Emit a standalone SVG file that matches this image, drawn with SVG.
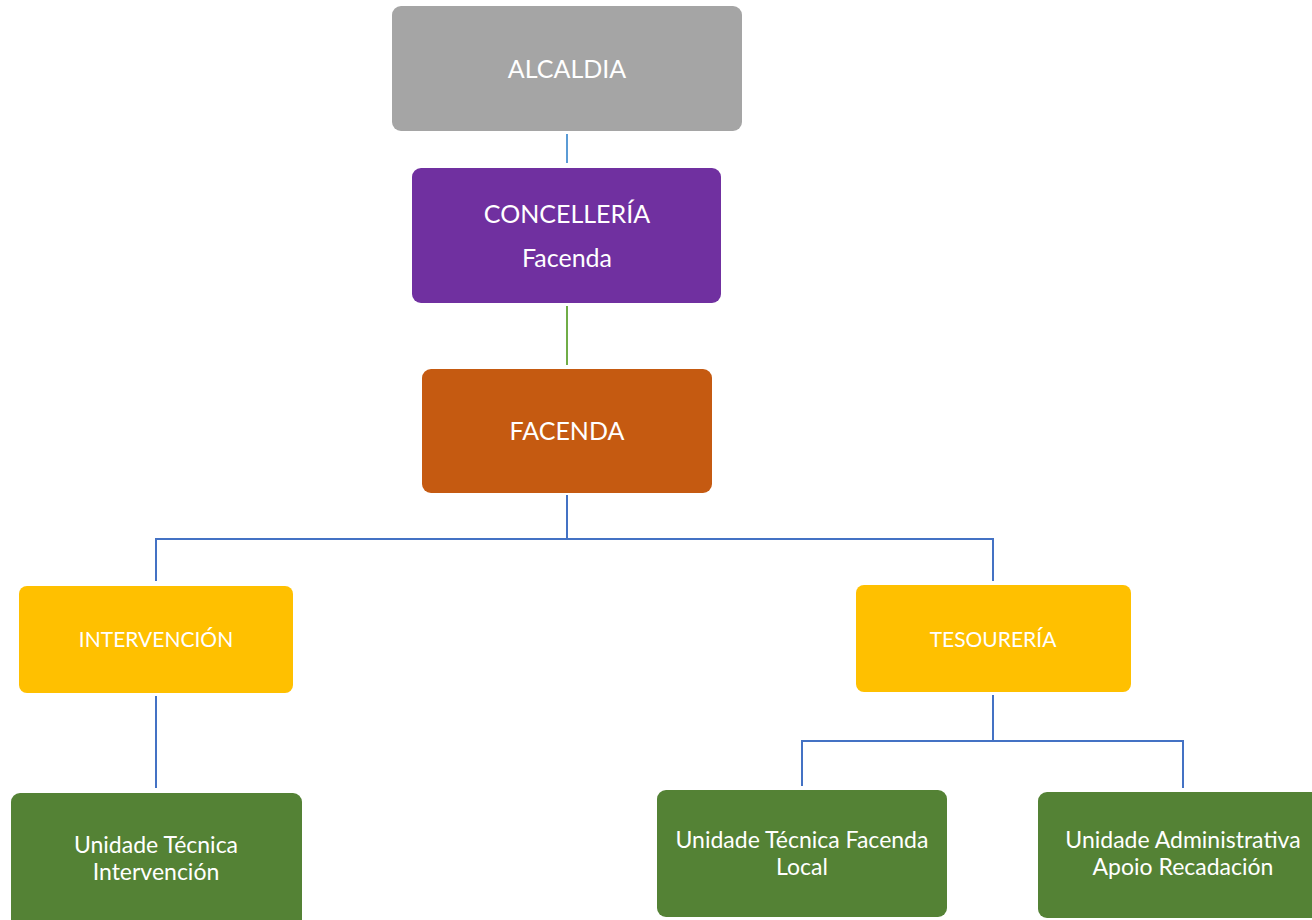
<svg xmlns="http://www.w3.org/2000/svg" width="1312" height="920" viewBox="0 0 1312 920">
<style>
.t{font-family:Lato,"Open Sans","Liberation Sans",sans-serif;fill:#fff;text-anchor:middle;dominant-baseline:central}
.big{font-size:25px}
.mid{font-size:21px}
.sm{font-size:23px}
.c{fill:none;stroke-width:2}
</style>
<rect width="1312" height="920" fill="#fff"/>
<g id="connectors">
<line class="c" x1="567" y1="134" x2="567" y2="163" stroke="#5B9BD5"/>
<line class="c" x1="567" y1="306" x2="567" y2="365" stroke="#70AD47"/>
<path class="c" d="M567 495 V539 M156 581 V539 H993 V581" stroke="#4472C4"/>
<path class="c" d="M156 696 V788" stroke="#4472C4"/>
<path class="c" d="M993 695 V741 M802 786 V741 H1183 V788" stroke="#4472C4"/>
</g>
<g id="alcaldia">
<rect x="392" y="6" width="350" height="125" rx="9" fill="#A5A5A5"/>
<text class="t big" x="567" y="68">ALCALDIA</text>
</g>
<g id="concelleria">
<rect x="412" y="168" width="309" height="135" rx="9" fill="#7030A0"/>
<text class="t big" x="567" y="213">CONCELLERÍA</text>
<text class="t big" x="567" y="257">Facenda</text>
</g>
<g id="facenda">
<rect x="422" y="369" width="290" height="124" rx="9" fill="#C55A11"/>
<text class="t big" x="567" y="430">FACENDA</text>
</g>
<g id="intervencion">
<rect x="19" y="586" width="274" height="107" rx="8" fill="#FFC000"/>
<text class="t mid" x="156" y="638">INTERVENCIÓN</text>
</g>
<g id="tesoureria">
<rect x="856" y="585" width="275" height="107" rx="8" fill="#FFC000"/>
<text class="t mid" x="993" y="638">TESOURERÍA</text>
</g>
<g id="ut-intervencion">
<rect x="11" y="793" width="291" height="140" rx="9" fill="#548235"/>
<text class="t sm" x="156" y="844">Unidade Técnica</text>
<text class="t sm" x="156" y="871">Intervención</text>
</g>
<g id="ut-facenda-local">
<rect x="657" y="790" width="290" height="127" rx="9" fill="#548235"/>
<text class="t sm" x="802" y="839">Unidade Técnica Facenda</text>
<text class="t sm" x="802" y="866">Local</text>
</g>
<g id="ua-apoio-recadacion">
<rect x="1038" y="792" width="290" height="126" rx="9" fill="#548235"/>
<text class="t sm" x="1183" y="839">Unidade Administrativa</text>
<text class="t sm" x="1183" y="866">Apoio Recadación</text>
</g>
</svg>
